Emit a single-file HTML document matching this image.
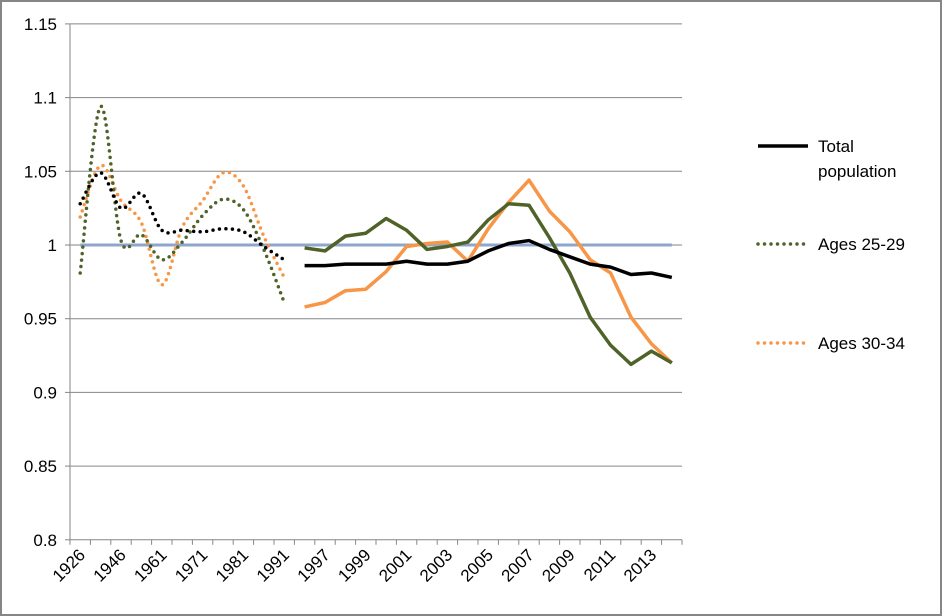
<!DOCTYPE html>
<html><head><meta charset="utf-8"><style>
html,body{margin:0;padding:0;background:#fff}
svg{display:block}
text{font-family:"Liberation Sans",sans-serif;font-size:17px;fill:#000}
</style></head><body>
<svg id="s" width="942" height="616" xmlns="http://www.w3.org/2000/svg">
<rect x="1" y="1" width="940" height="614" fill="#fff" stroke="#868686" stroke-width="2"/>
<g id="g"></g>
</svg>
<script>
const NS="http://www.w3.org/2000/svg",g=document.getElementById('g');
function el(t,a,txt){const e=document.createElementNS(NS,t);for(const k in a)e.setAttribute(k,a[k]);if(txt!=null)e.textContent=txt;g.appendChild(e);return e;}
const X0=70,X1=682,W=(X1-X0)/30;
const cx=i=>X0+W*(i+0.5);
const cy=v=>245-(v-1)*1474;
for(let k=0;k<=7;k++){const v=0.8+k*0.05,y=cy(v);
 if(k>0)el('line',{x1:X0,x2:X1,y1:y,y2:y,stroke:'#868686','stroke-width':1});
 el('line',{x1:X0-5,x2:X0,y1:y,y2:y,stroke:'#868686','stroke-width':1});
 el('text',{x:X0-13,y:y+6,'text-anchor':'end'},(Math.round(v*100)/100).toString());}
el('line',{x1:X0,x2:X0,y1:cy(1.15),y2:cy(0.8),stroke:'#868686','stroke-width':1});
el('line',{x1:X0,x2:X1,y1:cy(0.8),y2:cy(0.8),stroke:'#868686','stroke-width':1});
for(let i=0;i<=30;i++){const x=X0+W*i;el('line',{x1:x,x2:x,y1:cy(0.8),y2:cy(0.8)+5,stroke:'#868686','stroke-width':1});}
const labs=['1926','1946','1961','1971','1981','1991','1997','1999','2001','2003','2005','2007','2009','2011','2013'];
labs.forEach((l,j)=>{const x=cx(2*j)+6,y=556;el('text',{x:x,y:y,'text-anchor':'end',transform:`rotate(-45 ${x} ${y})`},l);});
el('line',{x1:cx(0),x2:cx(29),y1:cy(1),y2:cy(1),stroke:'#8ea5cc','stroke-width':3});
function smooth(pts){let d=`M${pts[0][0]},${pts[0][1]}`;
 for(let i=0;i<pts.length-1;i++){const p0=pts[i-1]||pts[i],p1=pts[i],p2=pts[i+1],p3=pts[i+2]||p2;
 const t=1/6;d+=` C${p1[0]+(p2[0]-p0[0])*t},${p1[1]+(p2[1]-p0[1])*t} ${p2[0]-(p3[0]-p1[0])*t},${p2[1]-(p3[1]-p1[1])*t} ${p2[0]},${p2[1]}`;}return d;}
function dotted(vals,col){const pts=vals.map((v,i)=>[cx(i),cy(v)]);
 el('path',{d:smooth(pts),fill:'none',stroke:col,'stroke-width':3.5,'stroke-linecap':'round','stroke-dasharray':'0 6.5'});}
function solid(vals,col){const pts=vals.map((v,i)=>[cx(i+11),cy(v)]);
 el('polyline',{points:pts.map(p=>p.join(',')).join(' '),fill:'none',stroke:col,'stroke-width':3.5,'stroke-linejoin':'round'});}
const GR='#4f6228',OR='#f79646',BK='#000';
dotted([1.019,1.054,1.030,1.015,0.973,1.012,1.030,1.049,1.040,1.006,0.978],OR);
dotted([0.981,1.094,1.003,1.007,0.990,1.002,1.020,1.031,1.024,0.997,0.961],GR);
dotted([1.028,1.049,1.025,1.035,1.010,1.010,1.009,1.011,1.009,0.999,0.990],BK);
solid([0.958,0.961,0.969,0.970,0.982,0.999,1.001,1.002,0.989,1.011,1.029,1.044,1.023,1.009,0.990,0.981,0.951,0.933,0.920],OR);
solid([0.998,0.996,1.006,1.008,1.018,1.010,0.997,0.999,1.002,1.017,1.028,1.027,1.005,0.981,0.951,0.932,0.919,0.928,0.920],GR);
solid([0.986,0.986,0.987,0.987,0.987,0.989,0.987,0.987,0.989,0.996,1.001,1.003,0.997,0.992,0.987,0.985,0.980,0.981,0.978],BK);
el('line',{x1:758,x2:808,y1:146,y2:146,stroke:BK,'stroke-width':3.5});
el('text',{x:818,y:152},'Total');el('text',{x:818,y:177},'population');
el('line',{x1:758,x2:808,y1:244,y2:244,stroke:GR,'stroke-width':3.5,'stroke-linecap':'round','stroke-dasharray':'0 6.5'});
el('text',{x:818,y:250},'Ages 25-29');
el('line',{x1:758,x2:808,y1:343,y2:343,stroke:OR,'stroke-width':3.5,'stroke-linecap':'round','stroke-dasharray':'0 6.5'});
el('text',{x:818,y:349},'Ages 30-34');
</script>
</body></html>
